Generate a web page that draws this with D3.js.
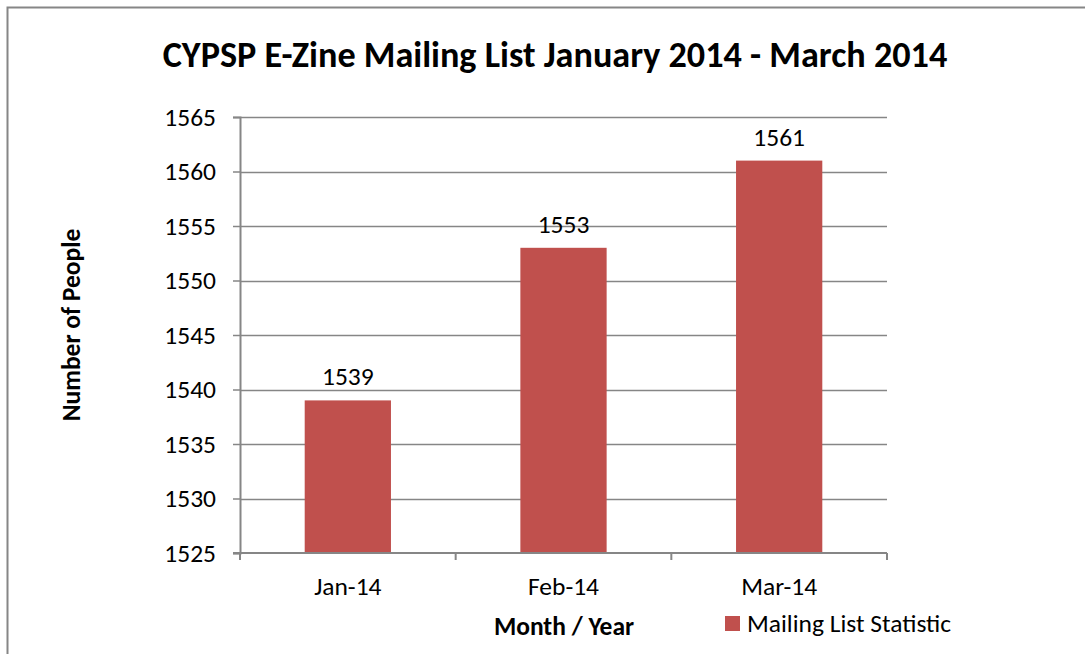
<!DOCTYPE html>
<html>
<head>
  <meta charset="UTF-8">
  <title>CYPSP E-Zine Mailing List</title>
  <style>
    body{
        margin: 0;
        background-color: #fff;
    }
    text{
        font-family: Carlito, Calibri, Lato, sans-serif;
        fill: #000;
    }
  </style>
</head>
<body>
<svg></svg>
<script src="https://d3js.org/d3.v7.min.js"></script>

<script>

// chart data
let months = ["Jan-14", "Feb-14", "Mar-14"];
let people = [1539, 1553, 1561];
let yTicks = [1525, 1530, 1535, 1540, 1545, 1550, 1555, 1560, 1565];
let seriesName = "Mailing List Statistic";
let chartTitle = "CYPSP E-Zine Mailing List January 2014 - March 2014";

let width = 1085, height = 654;
let barColor = "#C0504D", lineColor = "#868686";
let fs = 25.5;

let svg = d3.select("svg")
    .attr("width", width)
    .attr("height", height);

// outer frame
svg.append("rect")
    .attr("x", 7.5).attr("y", 7.5)
    .attr("width", width + 20).attr("height", height + 20)
    .attr("fill", "none")
    .attr("stroke", lineColor)
    .attr("stroke-width", 2);

let plot = {left: 240, right: 887, top: 117, bottom: 553};

let x = d3.scaleBand()
    .domain(months)
    .range([plot.left, plot.right])
    .paddingInner(0.6)
    .paddingOuter(0.3);

let xb = d3.scaleBand()
    .domain(months)
    .range([plot.left, plot.right]);

let y = d3.scaleLinear()
    .domain([1525, 1565])
    .range([plot.bottom, plot.top]);

// gridlines
svg.append("g")
    .selectAll("line")
    .data(yTicks.slice(1))
    .enter().append("line")
    .attr("x1", plot.left).attr("x2", plot.right)
    .attr("y1", d => Math.round(y(d)) + 0.5)
    .attr("y2", d => Math.round(y(d)) + 0.5)
    .attr("stroke", lineColor)
    .attr("stroke-width", 1.5);

// bars
svg.append("g")
    .selectAll("rect")
    .data(people)
    .enter().append("rect")
    .attr("x", (d, i) => x(months[i]))
    .attr("width", x.bandwidth())
    .attr("y", d => y(d))
    .attr("height", d => y(1525) - y(d))
    .attr("fill", barColor);

// data labels
svg.append("g")
    .selectAll("text")
    .data(people)
    .enter().append("text")
    .attr("x", (d, i) => x(months[i]) + x.bandwidth() / 2)
    .attr("y", d => y(d) - 15)
    .attr("text-anchor", "middle")
    .attr("font-size", fs)
    .text(d => d);

// y axis
let yAxis = svg.append("g")
    .attr("transform", "translate(" + plot.left + ",0)")
    .call(d3.axisLeft(y).tickValues(yTicks).tickSize(7).tickPadding(17).tickFormat(d3.format("d")));
yAxis.selectAll("line").attr("stroke", lineColor).attr("stroke-width", 1.5);
yAxis.select(".domain").attr("stroke", lineColor).attr("stroke-width", 2);
yAxis.selectAll("text").attr("font-size", fs).attr("font-family", null);

// x axis with ticks at category boundaries
let xAxis = svg.append("g")
    .attr("transform", "translate(0," + plot.bottom + ")");
xAxis.append("line")
    .attr("x1", plot.left - 7).attr("x2", plot.right)
    .attr("stroke", lineColor).attr("stroke-width", 2);
xAxis.selectAll(".bound")
    .data(months.concat(["end"]))
    .enter().append("line")
    .attr("class", "bound")
    .attr("x1", (d, i) => i < months.length ? xb(d) : xb(months[months.length - 1]) + xb.bandwidth())
    .attr("x2", (d, i) => i < months.length ? xb(d) : xb(months[months.length - 1]) + xb.bandwidth())
    .attr("y1", 0).attr("y2", 7)
    .attr("stroke", lineColor).attr("stroke-width", 2);
xAxis.selectAll(".lbl")
    .data(months)
    .enter().append("text")
    .attr("class", "lbl")
    .attr("x", d => xb(d) + xb.bandwidth() / 2)
    .attr("y", 42)
    .attr("text-anchor", "middle")
    .attr("font-size", fs)
    .text(d => d);

// title
let title = svg.append("text")
    .attr("x", 555)
    .attr("y", 67)
    .attr("text-anchor", "middle")
    .attr("font-weight", "bold")
    .attr("font-size", 30)
    .text(chartTitle);
let tw = title.node().getComputedTextLength();
title.attr("font-size", 30 * 785 / tw);

// axis titles
svg.append("text")
    .attr("x", 564)
    .attr("y", 635)
    .attr("text-anchor", "middle")
    .attr("font-weight", "bold")
    .attr("font-size", fs)
    .text("Month / Year");

svg.append("text")
    .attr("transform", "translate(80,325) rotate(-90)")
    .attr("text-anchor", "middle")
    .attr("font-weight", "bold")
    .attr("font-size", fs)
    .text("Number of People");

// legend
svg.append("rect")
    .attr("x", 725).attr("y", 616)
    .attr("width", 15).attr("height", 15)
    .attr("fill", barColor);
svg.append("text")
    .attr("x", 747)
    .attr("y", 632)
    .attr("font-size", fs)
    .text(seriesName);

</script>

</body>
</html>
